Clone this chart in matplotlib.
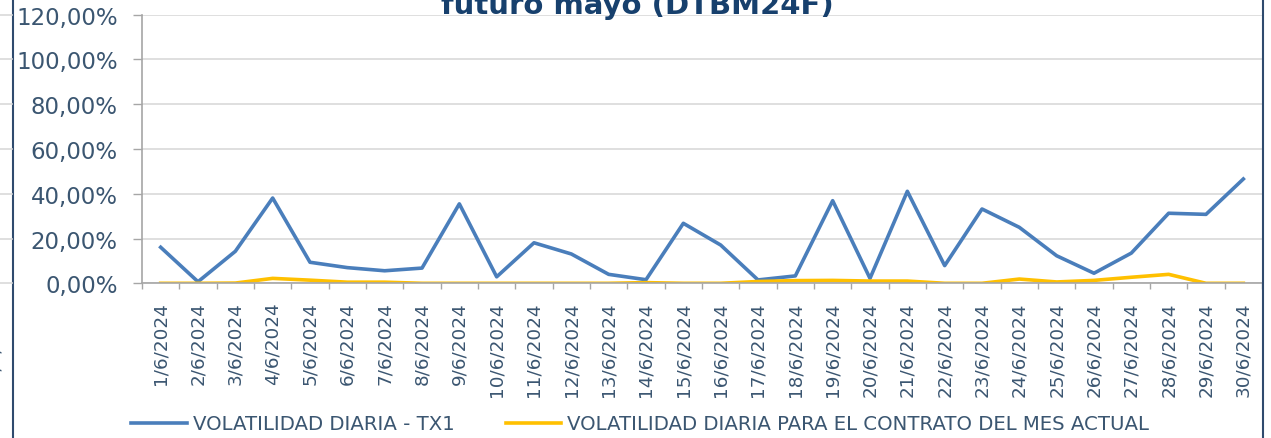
import numpy as np
import matplotlib.pyplot as plt
from matplotlib.lines import Line2D

# category labels (June 2024, daily)
fechas = [f"{d}/6/2024" for d in range(1, 31)]

# daily volatility, TX1 (in %)
vol_tx1 = [16.1, 0.7, 14.3, 38.1, 9.4, 7.0, 5.6, 6.8, 35.5, 2.9,
           18.1, 13.1, 4.0, 1.6, 26.8, 17.1, 1.5, 3.3, 36.9, 2.2,
           41.1, 7.9, 33.2, 25.0, 12.3, 4.5, 13.5, 31.3, 30.8, 46.6]

# daily volatility, current month contract (in %)
vol_mes = [0.0, 0.0, 0.1, 2.2, 1.4, 0.5, 0.5, 0.0, 0.0, 0.0,
           0.0, 0.0, 0.0, 0.3, 0.0, 0.0, 0.8, 1.2, 1.3, 1.0,
           1.0, 0.0, 0.0, 1.9, 0.6, 1.3, 2.7, 4.0, 0.0, 0.0]

W, H = 1271, 439
txt_color = '#3B5671'
blue = '#4A7EBB'
yellow = '#FFC000'

fig = plt.figure(figsize=(W / 100, H / 100), dpi=100)
ax = fig.add_axes([142 / W, 1 - 284.3 / H, 1120 / W, (284.3 - 15.7) / H])

x = np.arange(len(fechas))
ax.plot(x, np.array(vol_tx1) / 100, color=blue, lw=2.6, solid_joinstyle='round',
        label='VOLATILIDAD DIARIA - TX1')
ax.plot(x, np.array(vol_mes) / 100, color=yellow, lw=2.6, solid_joinstyle='round',
        label='VOLATILIDAD DIARIA PARA EL CONTRATO DEL MES ACTUAL')

ax.set_xlim(-0.5, len(fechas) - 0.5)
ax.set_ylim(0, 1.2)

# y axis
yt = np.arange(0, 1.21, 0.2)
ax.set_yticks(yt)
ax.set_yticklabels([f"{v * 100:.2f}%".replace('.', ',') for v in yt])
ax.tick_params(axis='y', direction='out', length=6.5, width=1, color='#A6A6A6',
               pad=11, labelsize=16.5, labelcolor=txt_color)
ax.grid(axis='y', color='#D9D9D9', lw=1.2)
ax.set_axisbelow(True)

# x axis: labels at centres, tick marks between categories
ax.set_xticks(x)
ax.set_xticklabels(fechas, rotation=90, va='top', ha='center')
ax.set_xticks(np.arange(-0.5, len(fechas)), minor=True)
ax.tick_params(axis='x', which='major', length=0, pad=13, labelsize=13.2,
               labelcolor=txt_color)
ax.tick_params(axis='x', which='minor', direction='out', length=4.5, width=1,
               color='#A6A6A6')

for s in ['top', 'right']:
    ax.spines[s].set_visible(False)
for s in ['left', 'bottom']:
    ax.spines[s].set_color('#A6A6A6')
    ax.spines[s].set_linewidth(1.2)

leg = ax.legend(loc='center', bbox_to_anchor=(640 / W, 1 - 425 / H),
                bbox_transform=fig.transFigure, ncol=2, frameon=False,
                fontsize=14.2, handlelength=2.8, handletextpad=0.3,
                columnspacing=2.6)
for t in leg.get_texts():
    t.set_color(txt_color)

# title (cut off at the top in the reference)
fig.text(637 / W, 1 - 14 / H, 'futuro mayo (DTBM24F)', ha='center',
         va='baseline', fontsize=21, fontweight='bold', color='#17406D')

# chart frame borders and a sliver of the neighbouring chart
fig.add_artist(Line2D([13 / W, 13 / W], [0, 1], color='#2F4B6E', lw=1.5))
fig.add_artist(Line2D([1262.5 / W, 1262.5 / W], [0, 1], color='#2F4B6E', lw=1.5))
for v in yt:
    yy = 1 - (284.3 - v / 1.2 * 268.6) / H
    fig.add_artist(Line2D([0, 12 / W], [yy, yy], color='#D9D9D9', lw=1.2))
fig.text(-6 / W, 1 - 298 / H, '30/6/2024', rotation=90, ha='center', va='top',
         fontsize=13.2, color=txt_color)

fig.savefig('out.png', dpi=100)
